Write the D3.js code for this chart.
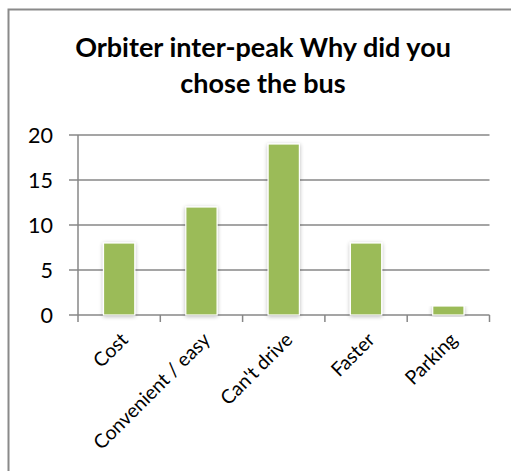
<!DOCTYPE html>
<html><head><meta charset="utf-8">
<script src="https://cdn.jsdelivr.net/npm/d3@7"></script>
<style>html,body{margin:0;padding:0;background:#fff;}svg{display:block;}</style>
</head><body>
<svg id="chart" width="511" height="471"></svg>
<script>
const titleLines = ["Orbiter inter-peak Why did you", "chose the bus"];
const categories = ["Cost", "Convenient / easy", "Can't drive", "Faster", "Parking"];
const values = [8, 12, 19, 8, 1];
const yTicks = [0, 5, 10, 15, 20];

const svg = d3.select("#chart");
const font = "Lato, 'Open Sans', sans-serif";
const grey = "#878787";

const defs = svg.append("defs");
const f = defs.append("filter").attr("id","sh").attr("x","-30%").attr("y","-10%").attr("width","160%").attr("height","130%");
f.append("feGaussianBlur").attr("in","SourceAlpha").attr("stdDeviation",2.2).attr("result","b");
f.append("feOffset").attr("in","b").attr("dx",0).attr("dy",1).attr("result","o");
f.append("feComponentTransfer").attr("in","o").attr("result","o2").append("feFuncA").attr("type","linear").attr("slope",0.28);
const m = f.append("feMerge"); m.append("feMergeNode").attr("in","o2"); m.append("feMergeNode").attr("in","SourceGraphic");

// outer frame (cropped on right/bottom)
svg.append("rect").attr("x",8.5).attr("y",9.5).attr("width",600).attr("height",600)
  .attr("fill","#fff").attr("stroke","#8a8a8a").attr("stroke-width",2);

// title
svg.append("text").attr("x",263).attr("y",57).attr("text-anchor","middle")
  .attr("font-family",font).attr("font-weight","bold").attr("font-size",27).attr("fill","#000")
  .selectAll("tspan").data(titleLines).join("tspan")
  .attr("x",263).attr("dy",(d,i)=>i===0?0:36).text(d=>d);

const x = d3.scaleBand().domain(categories).range([78, 489.5]).padding(0);
const y = d3.scaleLinear().domain([0, 20]).range([315, 135]);

// gridlines
svg.append("g").selectAll("line").data(yTicks).join("line")
  .attr("x1",69).attr("x2",489.5).attr("y1",d=>y(d)).attr("y2",d=>y(d))
  .attr("stroke",grey).attr("stroke-width",1.5);

// y axis line
svg.append("line").attr("x1",78).attr("x2",78).attr("y1",y(20)).attr("y2",y(0)+7)
  .attr("stroke",grey).attr("stroke-width",1.5);
// x category ticks
const bounds = categories.map(c=>x(c)).concat([x(categories[categories.length-1])+x.bandwidth()]);
svg.append("g").selectAll("line").data(bounds.slice(1)).join("line")
  .attr("x1",d=>d).attr("x2",d=>d).attr("y1",y(0)).attr("y2",y(0)+7)
  .attr("stroke",grey).attr("stroke-width",1.5);

// y labels
svg.append("g").selectAll("text").data(yTicks).join("text")
  .attr("x",53).attr("y",d=>y(d)).attr("dy","0.36em").attr("text-anchor","end")
  .attr("font-family",font).attr("font-size",21.5).attr("fill","#000").text(d=>d);

// bars
const bw = x.bandwidth()*0.38;
svg.append("g").selectAll("rect").data(categories).join("rect")
  .attr("x",(d)=>x(d)+x.bandwidth()/2-bw/2)
  .attr("y",(d,i)=>y(values[i]))
  .attr("width",bw)
  .attr("height",(d,i)=>y(0)-y(values[i]))
  .attr("fill","#9bbb59").attr("stroke","#ffffff").attr("stroke-width",1.2)
  .attr("filter","url(#sh)");

// x labels
svg.append("g").selectAll("text").data(categories).join("text")
  .attr("transform",d=>`translate(${x(d)+x.bandwidth()/2+10},${y(0)+26}) rotate(-45)`)
  .attr("text-anchor","end")
  .attr("font-family",font).attr("font-size",19.5).attr("fill","#000").text(d=>d);
</script>
</body></html>
